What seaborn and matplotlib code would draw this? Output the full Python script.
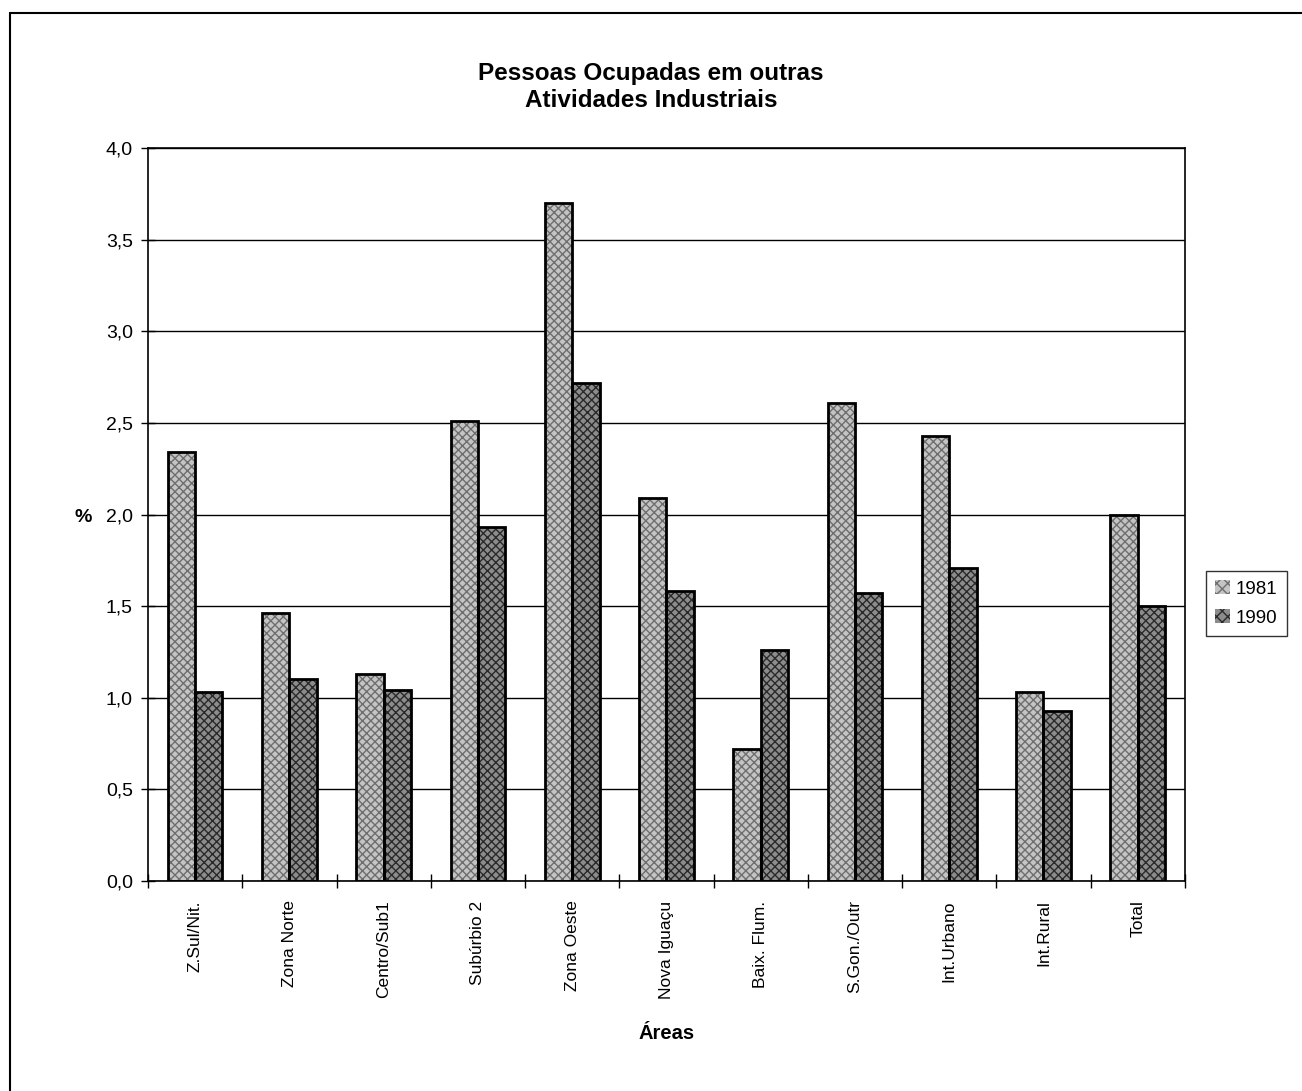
import matplotlib
matplotlib.use("Agg")
import matplotlib.pyplot as plt
from matplotlib.lines import Line2D
from matplotlib.ticker import FuncFormatter, FixedLocator
import seaborn as sns
import pandas as pd

areas = ["Z.Sul/Nit.", "Zona Norte", "Centro/Sub1", "Subúrbio 2", "Zona Oeste",
         "Nova Iguaçu", "Baix. Flum.", "S.Gon./Outr", "Int.Urbano", "Int.Rural", "Total"]
v1981 = [2.34, 1.46, 1.13, 2.51, 3.70, 2.09, 0.72, 2.61, 2.43, 1.03, 2.00]
v1990 = [1.03, 1.10, 1.04, 1.93, 2.72, 1.58, 1.26, 1.57, 1.71, 0.93, 1.50]
years = ["1981", "1990"]

df = pd.DataFrame({
    "Área": areas * 2,
    "Ano": [years[0]] * len(areas) + [years[1]] * len(areas),
    "Valor": v1981 + v1990,
})

sns.set_theme(style="white")
plt.rcParams["font.family"] = ["Liberation Sans", "DejaVu Sans"]
plt.rcParams["hatch.linewidth"] = 1.0
for key in ["text.color", "axes.labelcolor", "xtick.color", "ytick.color"]:
    plt.rcParams[key] = "black"

fig = plt.figure(figsize=(13.02, 10.91), dpi=100)
ax = fig.add_axes([0.1137, 0.1925, 0.7963, 0.6718])

fills = {"1981": ("#c4c4c4", "#6e6e6e"), "1990": ("#8c8c8c", "#2a2a2a")}

sns.barplot(data=df, x="Área", y="Valor", hue="Ano", order=areas, hue_order=years,
            width=0.58, ax=ax, legend=False, palette=[fills[y][0] for y in years],
            saturation=1)

for cont, yr in zip(ax.containers, years):
    face, hcol = fills[yr]
    for bar in cont:
        bar.set_facecolor(face)
        bar.set_hatch("xxxx")
        bar.set_edgecolor(hcol)
        bar.set_linewidth(0)
        # black outline drawn over the hatched fill
        x0, y0 = bar.get_x(), bar.get_y()
        w, h = bar.get_width(), bar.get_height()
        ax.add_patch(plt.Rectangle((x0, y0), w, h, fill=False, edgecolor="black",
                                   linewidth=2.0, zorder=bar.get_zorder() + 0.1))

ax.set_ylim(0, 4.0)
ax.set_xlim(-0.5, len(areas) - 0.5)
ax.set_yticks([i * 0.5 for i in range(9)])
ax.yaxis.set_major_formatter(FuncFormatter(lambda v, p: f"{v:.1f}".replace(".", ",")))
ax.yaxis.grid(True, color="black", linewidth=1.0)
ax.set_axisbelow(True)

ax.set_xticks(range(len(areas)))
ax.set_xticklabels(areas, rotation=90, fontsize=12.5)
ax.tick_params(axis="x", which="major", length=0, pad=14)
ax.xaxis.set_minor_locator(FixedLocator([i - 0.5 for i in range(len(areas) + 1)]))
ax.tick_params(axis="x", which="minor", direction="inout", length=10, width=1,
               color="black", bottom=True)
ax.tick_params(axis="y", which="major", direction="inout", length=10, width=1,
               color="black", left=True, labelsize=14, pad=6)

for s in ax.spines.values():
    s.set_color("black")
    s.set_linewidth(1.2)

ax.set_ylabel("")
ax.set_xlabel("Áreas", fontsize=14.5, fontweight="bold", labelpad=18)
fig.text(0.064, 0.526, "%", fontsize=14, fontweight="bold", ha="center", va="center")

fig.suptitle("Pessoas Ocupadas em outras\nAtividades Industriais", fontsize=17.5,
             fontweight="bold", y=0.943, x=0.5, va="top", linespacing=1.2)

# legend
handles = [plt.Rectangle((0, 0), 1, 1, facecolor=fills[y][0], edgecolor=fills[y][1],
                         hatch="xxx", linewidth=0) for y in years]
leg = fig.legend(handles, years, loc="center left", bbox_to_anchor=(0.926, 0.447),
                 frameon=True, fontsize=13.5, handlelength=0.8, handleheight=0.8,
                 handletextpad=0.3, borderpad=0.5, labelspacing=0.6, fancybox=False,
                 borderaxespad=0)
leg.get_frame().set_edgecolor("black")
leg.get_frame().set_linewidth(1.0)

# outer frame lines
fig.add_artist(Line2D([0.008, 1.0], [0.988, 0.988], color="black", linewidth=1.5,
                      transform=fig.transFigure))
fig.add_artist(Line2D([0.008, 0.008], [0.0, 0.988], color="black", linewidth=1.5,
                      transform=fig.transFigure))

fig.savefig("out.png", dpi=100, facecolor="white")
